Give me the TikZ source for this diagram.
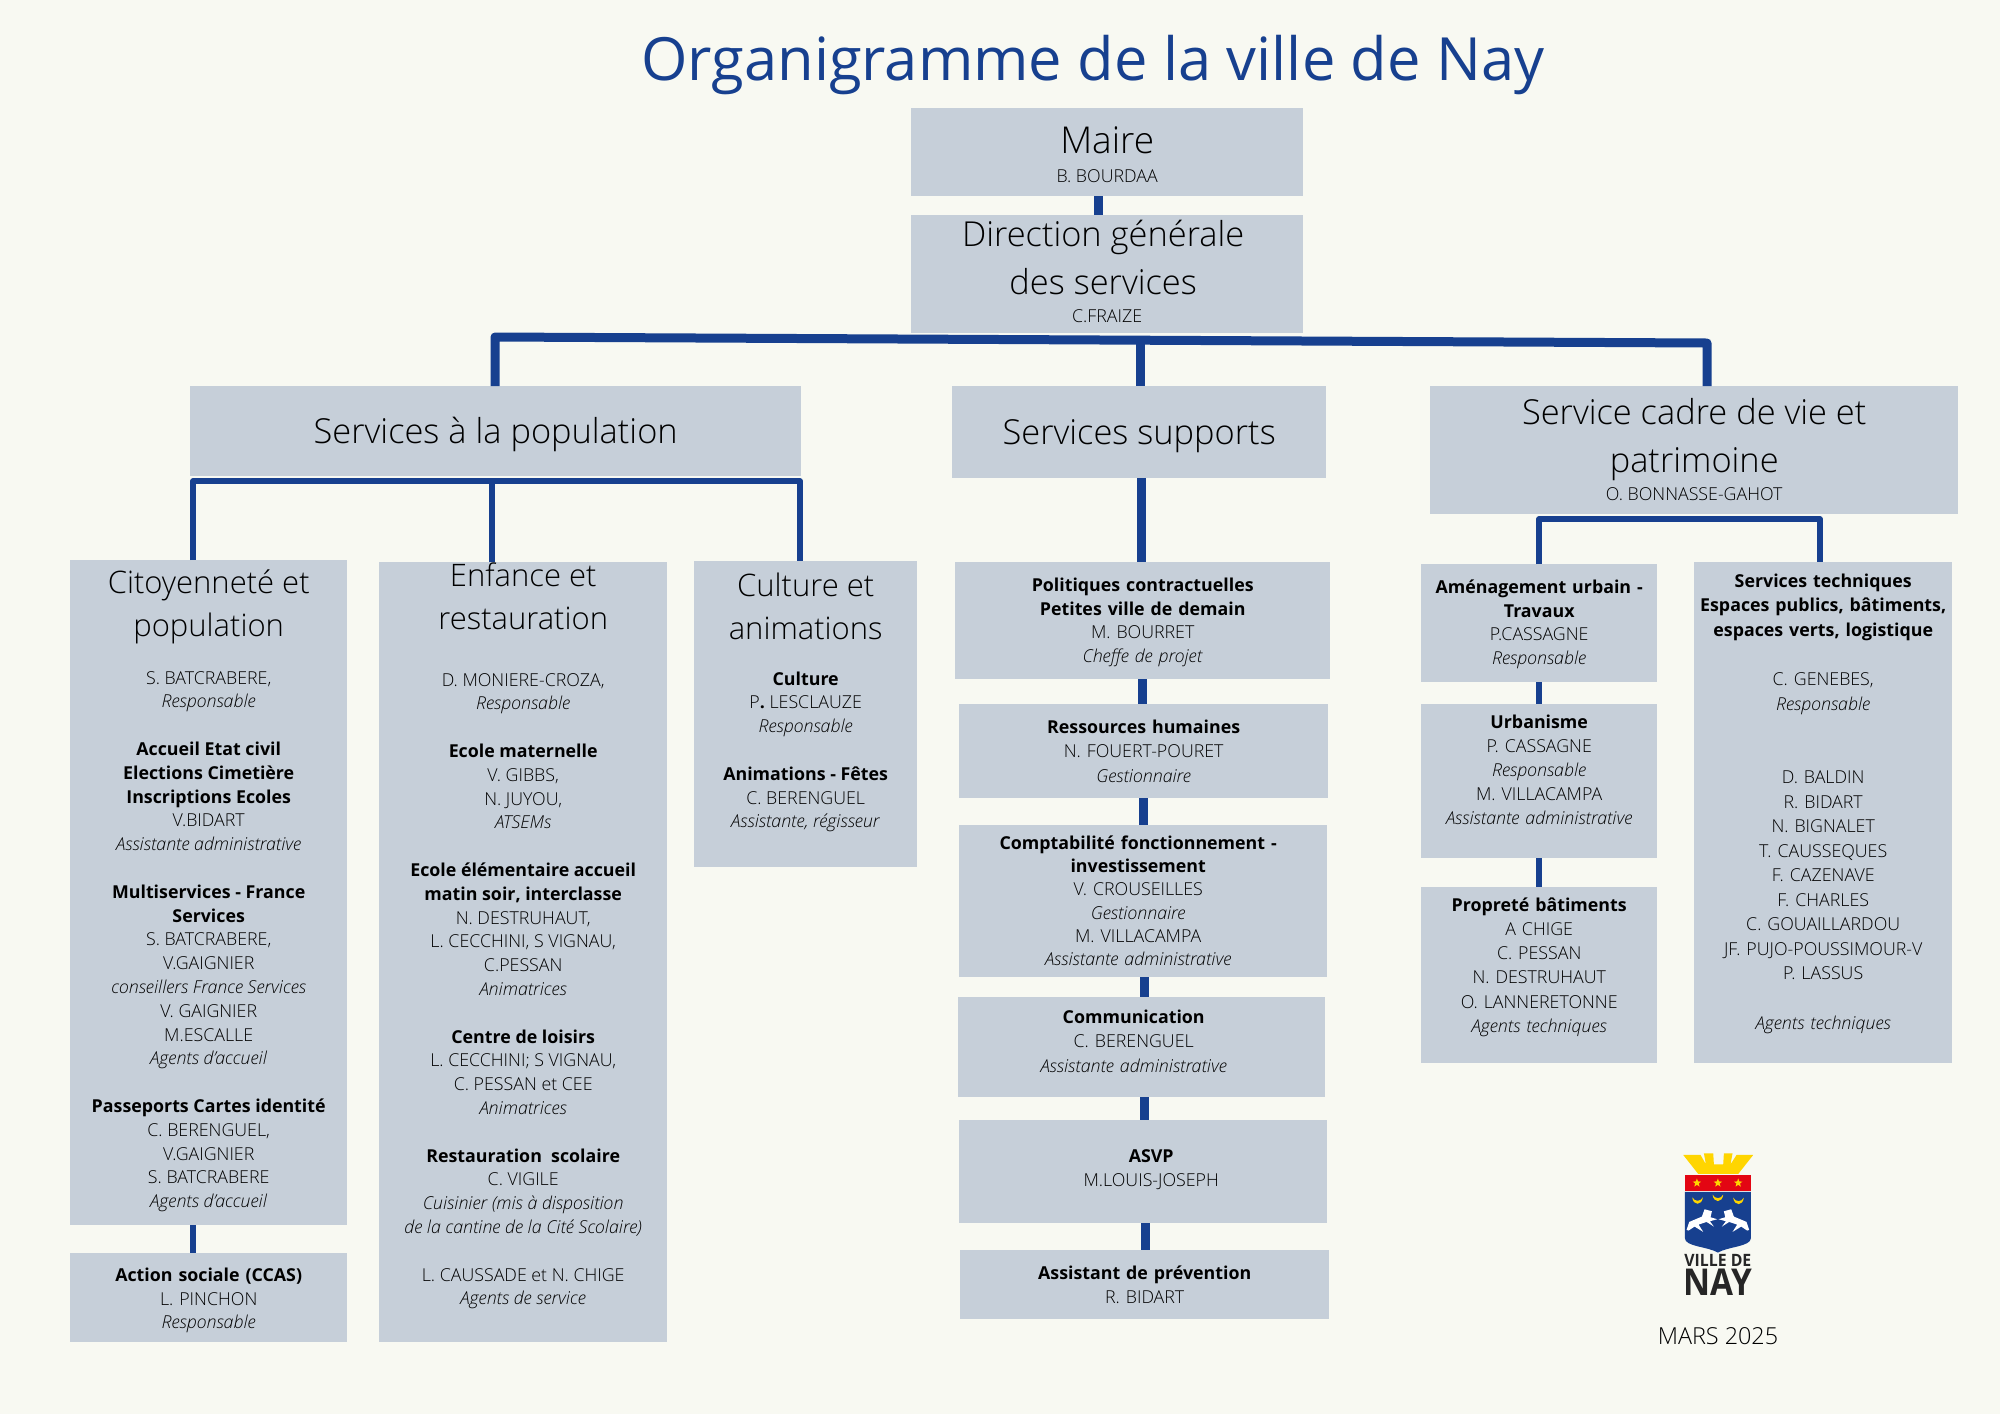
\documentclass[tikz,border=0pt]{standalone}
\usepackage{fontspec}
\setmainfont{Open Sans Light}[BoldFont=Open Sans Bold,ItalicFont=Open Sans Light Italic]
\usetikzlibrary{shapes.geometric}
\definecolor{pagebg}{HTML}{F8F9F2}
\definecolor{boxgrey}{HTML}{C6CFD9}
\definecolor{nayblue}{HTML}{17408F}
\definecolor{nayred}{HTML}{E30613}
\definecolor{naygold}{HTML}{FFD500}
\newcommand{\wordgap}{\spaceskip=.26em\xspaceskip=.26em\relax}
\newcommand{\boxtitle}{\fontsize{31}{43}\selectfont\wordgap}
\newcommand{\boxlarge}{\fontsize{34.4}{48}\selectfont\wordgap}
\newcommand{\boxbody}{\fontsize{17.8}{23.8}\selectfont\wordgap}
\newcommand{\boxlead}[1]{\fontsize{17.8}{#1}\selectfont\wordgap}
\tikzset{
  orgbox/.style n args={3}{fill=boxgrey, inner sep=0pt, anchor=north west, align=center,
    font=\boxbody, text width=#1, text height=#2, text depth=#3},
  biglink/.style={draw=nayblue, line width=9pt, line join=round},
  thinlink/.style={draw=nayblue, line width=5.5pt, line join=round},
  naystar/.style={star, star points=5, star point ratio=2.4, fill=naygold, inner sep=0pt, minimum size=9pt},
}

\begin{document}
\begin{tikzpicture}[x=1pt, y=-1pt]
    \fill[pagebg] (0,0) rectangle (2000,1414);
    \useasboundingbox (0,0) rectangle (2000,1414);
    \node[text=nayblue, font=\fontspec{Open Sans}\fontsize{59.6}{70}\selectfont] (title) at (1093,65.5) {Organigramme de la ville de Nay};

    \node[orgbox={392pt}{45pt}{43pt}] (maire) at (911,108) {\fontsize{37}{43}\selectfont Maire\par\vspace{5pt}\boxbody B. BOURDAA};
    \node[orgbox={392pt}{31pt}{87pt}] (dg) at (911,215) {\boxlarge\advance\rightskip 8pt Direction générale\\des services\par\advance\rightskip -8pt\vspace{4pt}\boxbody C.FRAIZE};

    \node[orgbox={611pt}{57.5pt}{32.5pt}] (population) at (190,386) {\boxlarge Services à la population};
    \node[orgbox={374pt}{58pt}{34pt}] (supports) at (952,386) {\boxlarge Services supports};
    \node[orgbox={528pt}{38pt}{90pt}] (cadre) at (1430,386) {\boxlarge Service cadre de vie et\\patrimoine\par\vspace{4pt}\boxbody O. BONNASSE-GAHOT};

    \node[orgbox={277pt}{33pt}{632pt}] (citoyen) at (70,560) {\boxtitle Citoyenneté et\\population\par\vspace{24pt}\boxbody
        S. BATCRABERE,\\\textit{Responsable}\\[23.8pt]
        \textbf{Accueil Etat civil}\\\textbf{Elections Cimetière}\\\textbf{Inscriptions Ecoles}\\V.BIDART\\\textit{Assistante administrative}\\[23.8pt]
        \textbf{Multiservices - France}\\\textbf{Services}\\S. BATCRABERE,\\V.GAIGNIER\\\textit{conseillers France Services}\\V. GAIGNIER\\M.ESCALLE\\\textit{Agents d'accueil}\\[23.8pt]
        \textbf{Passeports Cartes identité}\\C. BERENGUEL,\\V.GAIGNIER\\S. BATCRABERE\\\textit{Agents d'accueil}};
    \node[orgbox={277pt}{28pt}{61pt}] (ccas) at (70,1253) {\textbf{Action sociale (CCAS)}\\L. PINCHON\\\textit{Responsable}};

    \node[orgbox={288pt}{24pt}{756pt}] (enfance) at (379,562) {\boxtitle Enfance et\\restauration\par\vspace{33pt}\boxbody
        D. MONIERE-CROZA,\\\textit{Responsable}\\[23.8pt]
        \textbf{Ecole maternelle}\\V. GIBBS,\\N. JUYOU,\\\textit{ATSEMs}\\[23.8pt]
        \textbf{Ecole élémentaire accueil}\\\textbf{matin soir, interclasse}\\N. DESTRUHAUT,\\L. CECCHINI, S VIGNAU,\\C.PESSAN\\\textit{Animatrices}\\[23.8pt]
        \textbf{Centre de loisirs}\\L. CECCHINI; S VIGNAU,\\C. PESSAN et CEE\\\textit{Animatrices}\\[23.8pt]
        \textbf{Restauration\ \ scolaire}\\C. VIGILE\\\textit{Cuisinier (mis à disposition}\\\textit{de la cantine de la Cité Scolaire)}\\[23.8pt]
        L. CAUSSADE et N. CHIGE\\\textit{Agents de service}};

    \node[orgbox={223pt}{35pt}{271pt}] (culture) at (694,561) {\boxtitle Culture et\\animations\par\vspace{22pt}\boxbody
        \textbf{Culture}\\P\textbf{.} LESCLAUZE\\\textit{Responsable}\\[23.8pt]
        \textbf{Animations - Fêtes}\\C. BERENGUEL\\\textit{Assistante, régisseur}};

    \node[orgbox={375pt}{29pt}{88pt}] (politiques) at (955,562) {\textbf{Politiques contractuelles}\\\textbf{Petites ville de demain}\\M. BOURRET\\\textit{Cheffe de projet}};
    \node[orgbox={369pt}{29pt}{65pt}, font=\boxlead{24.5}] (rh) at (959,704) {\textbf{Ressources humaines}\\N. FOUERT-POURET\\\textit{Gestionnaire}};
    \node[orgbox={368pt}{24pt}{128pt}, font=\boxlead{23.3}] (compta) at (959,825) {\advance\rightskip 10pt\textbf{Comptabilité fonctionnement -}\\\textbf{investissement}\\V. CROUSEILLES\\\textit{Gestionnaire}\\M. VILLACAMPA\\\textit{Assistante administrative}\par};
    \node[orgbox={367pt}{26pt}{74pt}, font=\boxlead{24.5}] (comm) at (958,997) {\advance\rightskip 16pt\textbf{Communication}\\C. BERENGUEL\\\textit{Assistante administrative}\par};
    \node[orgbox={368pt}{42pt}{61pt}] (asvp) at (959,1120) {\advance\leftskip 16pt\textbf{ASVP}\\M.LOUIS-JOSEPH\par};
    \node[orgbox={369pt}{29pt}{40pt}] (prevention) at (960,1250) {\textbf{Assistant de prévention}\\R. BIDART};

    \node[orgbox={236pt}{29pt}{89pt}] (amenagement) at (1421,564) {\textbf{Aménagement urbain -}\\\textbf{Travaux}\\P.CASSAGNE\\\textit{Responsable}};
    \node[orgbox={236pt}{24pt}{130pt}, font=\boxlead{24}] (urbanisme) at (1421,704) {\textbf{Urbanisme}\\P. CASSAGNE\\\textit{Responsable}\\M. VILLACAMPA\\\textit{Assistante administrative}};
    \node[orgbox={236pt}{24pt}{152pt}, font=\boxlead{24.2}] (proprete) at (1421,887) {\textbf{Propreté bâtiments}\\A CHIGE\\C. PESSAN\\N. DESTRUHAUT\\O. LANNERETONNE\\\textit{Agents techniques}};
    \node[orgbox={258pt}{25pt}{476pt}, font=\boxlead{24.5}] (techniques) at (1694,562) {\textbf{Services techniques}\\\textbf{Espaces publics, bâtiments,}\\\textbf{espaces verts, logistique}\\[25pt]
        C. GENEBES,\\\textit{Responsable}\\[49pt]
        D. BALDIN\\R. BIDART\\N. BIGNALET\\T. CAUSSEQUES\\F. CAZENAVE\\F. CHARLES\\C. GOUAILLARDOU\\JF. PUJO-POUSSIMOUR-V\\P. LASSUS\\[25pt]
        \textit{Agents techniques}};

    \node[font=\fontsize{23.4}{28}\selectfont\wordgap] (date) at (1718,1336) {MARS 2025};

    % liaisons
    \coordinate (busleft) at (495,337);
    \coordinate (busmid) at (1140,340);
    \coordinate (busright) at (1707,343);
    \draw[biglink] (1098,0 |- maire.south) -- (1098,0 |- dg.north);
    \draw[biglink] (busleft |- population.north) -- (busleft) -- (busright) -- (busright |- cadre.north);
    \draw[biglink] (busmid) -- (busmid |- supports.north);

    \coordinate (popleft) at (193,481);
    \coordinate (popmid) at (492,481);
    \coordinate (popright) at (800,481);
    \draw[thinlink] (popleft |- citoyen.north) -- (popleft) -- (popright) -- (popright |- culture.north);
    \draw[thinlink] (popmid) -- (popmid |- enfance.north);
    \draw[thinlink] (popleft |- citoyen.south) -- (popleft |- ccas.north);

    \coordinate (cadreleft) at (1539,519);
    \coordinate (cadreright) at (1820,519);
    \draw[thinlink] (cadreleft |- amenagement.north) -- (cadreleft) -- (cadreright) -- (cadreright |- techniques.north);
    \draw[thinlink] (cadreleft |- amenagement.south) -- (cadreleft |- urbanisme.north);
    \draw[thinlink] (cadreleft |- urbanisme.south) -- (cadreleft |- proprete.north);

    \coordinate (supchain) at (1141,0);
    \draw[biglink] (supchain |- supports.south) -- (supchain |- politiques.north);
    \draw[biglink] (1142,0 |- politiques.south) -- (1142,0 |- rh.north);
    \draw[biglink] (1143,0 |- rh.south) -- (1143,0 |- compta.north);
    \draw[biglink] (1144,0 |- compta.south) -- (1144,0 |- comm.north);
    \draw[biglink] (1144,0 |- comm.south) -- (1144,0 |- asvp.north);
    \draw[biglink] (1145,0 |- asvp.south) -- (1145,0 |- prevention.north);

    % blason
    \begin{scope}[shift={(1600,1130)}, x=0.333pt, y=-0.333pt]
        \fill[naygold] (250,75) -- (302,75) -- (318,103) -- (312,70) -- (340,70) -- (342,103) -- (370,103) -- (372,70) -- (398,70) -- (392,103) -- (410,75) -- (460,75) -- (415,132) -- (295,132) -- cycle;
        \fill[nayred] (255,136) rectangle (453,183);
        \node[naystar] (star1) at (291,159) {};
        \node[naystar] (star2) at (354,159) {};
        \node[naystar] (star3) at (415,159) {};
        \fill[nayblue] (255,186) -- (453,186) -- (453,325) .. controls (453,350) and (385,350) .. (354,368) .. controls (323,350) and (255,350) .. (255,325) -- cycle;
        \fill[naygold] (277,202) .. controls (280,228) and (306,228) .. (309,202) .. controls (302,216) and (284,216) .. (277,202) -- cycle;
        \fill[naygold] (338,194) .. controls (341,220) and (367,220) .. (370,194) .. controls (363,208) and (345,208) .. (338,194) -- cycle;
        \fill[naygold] (400,203) .. controls (403,229) and (429,229) .. (432,203) .. controls (425,217) and (407,217) .. (400,203) -- cycle;
        \fill[white] (260,300) -- (268,276) -- (306,260) -- (314,238) -- (336,244) -- (332,262) -- (352,268) -- (330,274) -- (342,290) -- (320,276) -- (296,284) -- (310,306) -- (284,290) -- (266,302) -- cycle;
        \fill[white] (448,300) -- (440,276) -- (402,260) -- (394,238) -- (372,244) -- (376,262) -- (356,268) -- (378,274) -- (366,290) -- (388,276) -- (412,284) -- (398,306) -- (424,290) -- (442,302) -- cycle;
        \node[font=\fontsize{17}{20}\selectfont\bfseries, text=black!85, inner sep=0pt] (ville) at (354,391) {\scalebox{0.93}[1]{VILLE DE}};
        \node[font=\fontsize{37}{40}\selectfont\bfseries, text=black!85, inner sep=0pt] (nay) at (355,457) {\scalebox{0.9}[1]{NAY}};
    \end{scope}
\end{tikzpicture}
\end{document}
